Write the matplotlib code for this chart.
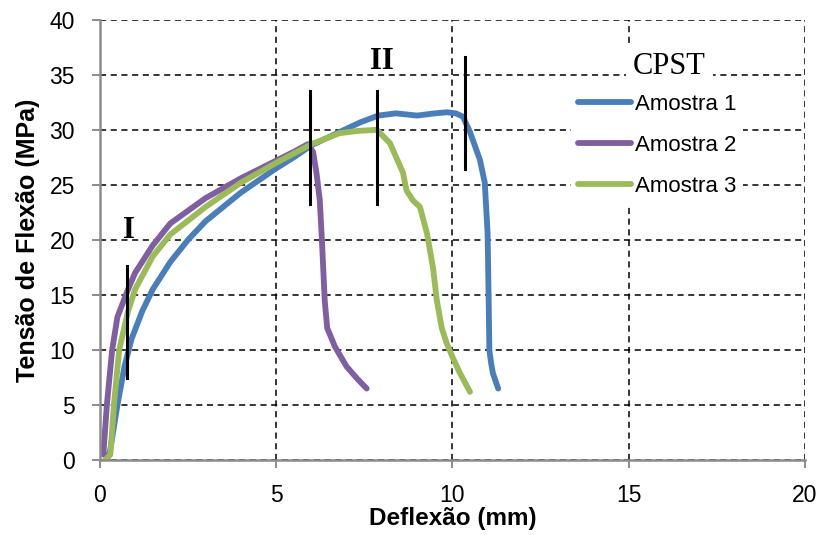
import matplotlib.pyplot as plt

# Amostra 1 (azul)
x1 = [0.2, 0.3, 0.5, 0.7, 0.9, 1.2, 1.5, 2.0, 2.5, 3.0, 4.0, 5.0, 5.5, 6.0, 6.8, 7.4, 7.9,
      8.4, 9.0, 9.5, 9.85, 10.1, 10.3, 10.5, 10.78, 10.92, 11.0, 11.03, 11.05, 11.1, 11.15, 11.3]
y1 = [0.0, 1.0, 5.0, 8.5, 11.0, 13.5, 15.5, 18.0, 20.0, 21.7, 24.3, 26.5, 27.5, 28.6, 29.8, 30.7, 31.3,
      31.5, 31.3, 31.5, 31.6, 31.5, 31.2, 29.8, 27.3, 25.2, 20.6, 14.5, 10.0, 8.8, 7.9, 6.5]

# Amostra 2 (roxo)
x2 = [0.1, 0.2, 0.35, 0.5, 0.8, 1.0, 1.5, 2.0, 3.0, 4.0, 5.0, 5.5, 5.9, 6.05, 6.15, 6.24,
      6.3, 6.38, 6.45, 6.67, 7.0, 7.3, 7.57]
y2 = [0.5, 5.0, 10.0, 13.0, 15.5, 17.0, 19.5, 21.5, 23.8, 25.6, 27.2, 28.0, 28.7, 28.0, 26.0, 23.6,
      20.0, 14.5, 12.0, 10.3, 8.5, 7.4, 6.5]

# Amostra 3 (verde)
x3 = [0.15, 0.3, 0.4, 0.55, 0.8, 1.0, 1.5, 2.0, 3.0, 4.0, 5.0, 6.0, 6.8, 7.3, 7.86, 8.23,
      8.6, 8.7, 8.88, 9.08, 9.28, 9.45, 9.56, 9.7, 9.84, 10.0, 10.2, 10.5]
y3 = [0.0, 0.5, 5.0, 10.0, 13.5, 15.5, 18.5, 20.5, 23.0, 25.2, 27.0, 28.7, 29.7, 29.9, 30.0, 28.8,
      26.1, 24.5, 23.6, 23.0, 20.6, 17.5, 14.5, 12.0, 10.6, 9.4, 8.0, 6.2]

series = [("Amostra 1", x1, y1, "#4a7ebb"),
          ("Amostra 2", x2, y2, "#7f5fa1"),
          ("Amostra 3", x3, y3, "#9bbb59")]

# barras verticais (x, y_min, y_max)
marks_x = [0.78, 5.95, 7.85, 10.35]
marks_lo = [7.5, 23.3, 23.3, 26.4]
marks_hi = [17.6, 33.5, 33.5, 36.6]

fig = plt.figure(figsize=(8.18, 5.35), dpi=100)
ax = fig.add_axes([0.122, 0.14, 0.862, 0.823])

for name, xs, ys, c in series:
    ax.plot(xs, ys, color=c, lw=4.2, label=name, solid_capstyle="round", solid_joinstyle="round")

for xm, lo, hi in zip(marks_x, marks_lo, marks_hi):
    ax.plot([xm, xm], [lo, hi], color="black", lw=2.2)

ax.text(0.82, 20.2, "I", fontsize=22, fontweight="bold", family="Liberation Serif",
        ha="center", va="baseline")
ax.text(8.0, 35.5, "II", fontsize=22, fontweight="bold", family="Liberation Serif",
        ha="center", va="baseline")
ax.text(16.15, 35.05, "CPST", fontsize=22, family="Liberation Serif", ha="center", va="baseline",
        bbox=dict(facecolor="white", edgecolor="none", pad=5))

ax.set_xlim(0, 20)
ax.set_ylim(0, 40)
ax.set_xticks([0, 5, 10, 15, 20])
ax.set_yticks(range(0, 41, 5))
ax.grid(True, color="black", linestyle=(0, (4, 3)), lw=1.1)
ax.set_axisbelow(True)

for s in ["top", "right"]:
    ax.spines[s].set_visible(False)
for s in ["left", "bottom"]:
    ax.spines[s].set_color("#8c8c8c")
    ax.spines[s].set_linewidth(1.8)
ax.tick_params(colors="#8c8c8c", labelcolor="black", labelsize=16.5, length=6, width=1.4)
ax.tick_params(axis="x", pad=11)
ax.tick_params(axis="y", pad=12)
for lab in ax.get_xticklabels() + ax.get_yticklabels():
    lab.set_family("Liberation Sans")

ax.set_xlabel("Deflexão (mm)", fontsize=17.5, fontweight="bold", family="Liberation Sans", labelpad=0)
ax.set_ylabel("Tensão de Flexão (MPa)", fontsize=18, fontweight="bold", family="Liberation Sans", labelpad=7)

leg = ax.legend(loc="upper left", bbox_to_anchor=(0.653, 0.872), frameon=True, fancybox=False,
                edgecolor="none", facecolor="white", framealpha=1,
                prop={"family": "Liberation Sans", "size": 16}, handlelength=2.4,
                handletextpad=0.15, labelspacing=0.9, borderpad=0.3)

fig.savefig("out.png", dpi=100)
